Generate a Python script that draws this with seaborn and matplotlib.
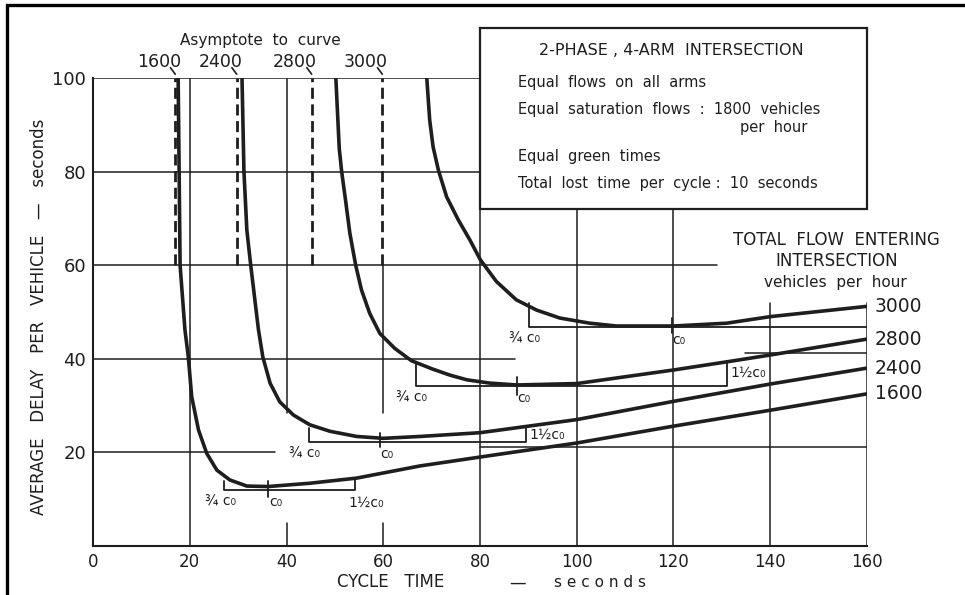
import pandas as pd
import matplotlib.pyplot as plt
import seaborn as sns
from matplotlib.patches import Rectangle

# Values
flows = ["1600", "2400", "2800", "3000"]

cycle_1600 = [17.6, 17.8, 18.0, 19.0, 19.7, 20.4, 21.8, 23.5, 25.6, 28.3, 31.8, 36.2, 44.8, 54.5, 67.6, 80.0, 100.0, 120.0, 140.0, 160.0]
delay_1600 = [100.0, 80.0, 60.0, 46.2, 40.4, 31.9, 24.8, 19.8, 16.2, 14.1, 12.8, 12.7, 13.4, 14.5, 17.1, 19.0, 22.0, 25.6, 29.0, 32.5]

cycle_2400 = [30.8, 31.2, 31.8, 32.6, 34.2, 35.1, 36.6, 38.6, 41.4, 44.8, 49.0, 54.5, 60.0, 67.6, 80.0, 100.0, 120.0, 140.0, 160.0]
delay_2400 = [100.0, 80.0, 67.5, 60.0, 46.2, 40.4, 34.8, 30.8, 28.0, 25.9, 24.5, 23.4, 23.0, 23.4, 24.2, 27.0, 30.9, 34.6, 38.0]

cycle_2800 = [50.2, 50.9, 51.4, 52.2, 53.1, 54.3, 55.5, 57.2, 59.3, 62.4, 65.8, 70.2, 73.8, 77.3, 82.0, 87.6, 100.0, 120.0, 132.0, 140.0, 160.0]
delay_2800 = [100.0, 85.0, 80.0, 73.9, 66.8, 60.0, 54.7, 49.7, 45.4, 42.2, 39.6, 37.8, 36.5, 35.5, 34.8, 34.4, 34.7, 37.6, 39.5, 40.8, 44.2]

cycle_3000 = [69.0, 69.6, 70.3, 71.4, 73.1, 75.5, 77.9, 80.1, 83.4, 87.5, 91.7, 96.5, 102.7, 108.2, 120.0, 131.0, 140.0, 160.0]
delay_3000 = [100.0, 91.0, 85.3, 80.3, 74.6, 69.7, 65.4, 61.1, 56.5, 52.6, 50.4, 48.7, 47.6, 47.0, 47.0, 47.6, 49.0, 51.2]

# optimum cycle brackets (3/4 c0, c0, 1.5 c0)
c0 = [36.2, 59.3, 87.6, 119.7]
c0_34 = [27.1, 44.6, 66.7, 90.1]
c0_15 = [54.1, 89.5, 131.0, 160.0]
bracket_level = [12.0, 22.3, 34.2, 46.7]
bracket_left_top = [13.9, 25.3, 39.2, 52.0]
bracket_right_top = [14.3, 25.6, 39.3, 46.7]
c0_tick_lo = [10.5, 21.2, 32.3, 45.5]
c0_tick_hi = [13.9, 24.1, 36.1, 48.7]

asymptote_x = [17.0, 29.7, 45.2, 59.8]

x_ticks = [0, 20, 40, 60, 80, 100, 120, 140, 160]
y_ticks = [20, 40, 60, 80, 100]

# grid pieces as drawn on the original
vgrid_x = [20, 40, 40, 60, 60, 80, 100, 120, 140, 160]
vgrid_y0 = [0, 0, 28.5, 0, 28.4, 0, 0, 0, 0, 0]
vgrid_y1 = [100, 5, 100, 5, 60, 72, 72, 72, 52, 52]
hgrid_y = [100, 80, 60, 40, 41.2, 20, 21.2]
hgrid_x0 = [0, 0, 0, 0, 134.7, 0, 80]
hgrid_x1 = [80, 80, 129, 87.2, 160, 37.6, 160]

box_lines = ["Equal  flows  on  all  arms",
             "Equal  saturation  flows  :  1800  vehicles",
             "Equal  green  times",
             "Total  lost  time  per  cycle :  10  seconds"]

sns.set_theme(style="white")
plt.rcParams["font.family"] = ["DejaVu Sans"]
ink = "#1e1e1e"

df = pd.concat([
    pd.DataFrame({"cycle": cycle_1600, "delay": delay_1600, "flow": "1600"}),
    pd.DataFrame({"cycle": cycle_2400, "delay": delay_2400, "flow": "2400"}),
    pd.DataFrame({"cycle": cycle_2800, "delay": delay_2800, "flow": "2800"}),
    pd.DataFrame({"cycle": cycle_3000, "delay": delay_3000, "flow": "3000"}),
])

fig = plt.figure(figsize=(9.65, 5.95), dpi=100)
ax = fig.add_axes([0.0964, 0.0824, 0.802, 0.7866])

# grid
for x, y0, y1 in zip(vgrid_x, vgrid_y0, vgrid_y1):
    ax.plot([x, x], [y0, y1], color=ink, lw=1.1, zorder=1)
for y, x0, x1 in zip(hgrid_y, hgrid_x0, hgrid_x1):
    ax.plot([x0, x1], [y, y], color=ink, lw=1.1, zorder=1)

# asymptotes
for x in asymptote_x:
    ax.plot([x, x], [60, 100], color=ink, lw=2.0, ls=(0, (4, 2)), zorder=2)

sns.lineplot(data=df, x="cycle", y="delay", hue="flow", palette=[ink] * 4,
             estimator=None, sort=False, legend=False, lw=2.6, ax=ax, zorder=3)
for ln in ax.lines[-4:]:
    ln.set_solid_joinstyle("round")
    ln.set_solid_capstyle("butt")

# brackets
for i in range(len(flows)):
    ax.plot([c0_34[i], c0_34[i], c0_15[i], c0_15[i]],
            [bracket_left_top[i], bracket_level[i], bracket_level[i], bracket_right_top[i]],
            color=ink, lw=1.3, zorder=2)
    ax.plot([c0[i], c0[i]], [c0_tick_lo[i], c0_tick_hi[i]], color=ink, lw=1.3, zorder=2)
    ax.text(c0_34[i] - 0.8, bracket_level[i] - 2.5, "¾ c₀", fontsize=10,
            ha="center", va="center", color=ink)
    ax.text(c0[i] + 1.5, bracket_level[i] - 2.6, "c₀", fontsize=10,
            ha="center", va="center", color=ink)

ax.text(c0_15[0] + 2.4, bracket_level[0] - 2.7, "1½c₀", fontsize=10, ha="center", va="center", color=ink)
ax.text(c0_15[1] + 0.8, bracket_level[1] + 1.5, "1½c₀", fontsize=10, ha="left", va="center", color=ink)
ax.text(c0_15[2] + 0.8, bracket_level[2] + 2.7, "1½c₀", fontsize=10, ha="left", va="center", color=ink)

# flow labels at right
ends = [delay_1600[-1], delay_2400[-1], delay_2800[-1], delay_3000[-1]]
for f, y in zip(flows, ends):
    ax.text(161.6, y, f, fontsize=13.5, ha="left", va="center", color=ink, clip_on=False)
ax.text(153.7, 65.4, "TOTAL  FLOW  ENTERING", fontsize=12, ha="center", va="center", color=ink)
ax.text(153.7, 60.8, "INTERSECTION", fontsize=12, ha="center", va="center", color=ink)
ax.text(153.5, 56.3, "vehicles  per  hour", fontsize=11, ha="center", va="center", color=ink)

# asymptote labels
ax.text(34.5, 108.1, "Asymptote  to  curve", fontsize=11, ha="center", va="center", color=ink, clip_on=False)
for f, x in zip(flows, asymptote_x):
    ax.text(x - 3.4, 103.4, f, fontsize=12.5, ha="center", va="center", color=ink, clip_on=False)
    ax.plot([x - 1.0, x], [102.2, 100.8], color=ink, lw=1.2, clip_on=False)

# info box
ax.add_patch(Rectangle((80, 72), 80, 38.7, fill=False, ec=ink, lw=1.6, clip_on=False, zorder=4))
ax.text(119.6, 105.8, "2-PHASE , 4-ARM  INTERSECTION", fontsize=11.5, ha="center", va="center", color=ink, clip_on=False)
for txt, y in zip(box_lines, [99.1, 93.2, 83.3, 77.4]):
    ax.text(87.8, y, txt, fontsize=10.5, ha="left", va="center", color=ink, clip_on=False)
ax.text(133.7, 89.5, "per  hour", fontsize=10.5, ha="left", va="center", color=ink)

# axes
ax.set_xlim(0, 160)
ax.set_ylim(0, 100)
ax.set_xticks(x_ticks)
ax.set_xticklabels([str(t) for t in x_ticks], fontsize=12, color=ink)
ax.set_yticks(y_ticks)
ax.set_yticklabels([str(t) for t in y_ticks], fontsize=13, color=ink)
ax.tick_params(axis="both", length=0)
ax.tick_params(axis="x", pad=5)
ax.tick_params(axis="y", pad=5)
for s in ["top", "right"]:
    ax.spines[s].set_visible(False)
for s in ["left", "bottom"]:
    ax.spines[s].set_color(ink)
    ax.spines[s].set_linewidth(1.5)
ax.set_xlabel("")
ax.text(0.384, -0.078, "CYCLE   TIME", transform=ax.transAxes, fontsize=12,
        ha="center", va="center", color=ink)
ax.text(0.549, -0.078, "—", transform=ax.transAxes, fontsize=12,
        ha="center", va="center", color=ink)
ax.text(0.655, -0.078, "s e c o n d s", transform=ax.transAxes, fontsize=11,
        ha="center", va="center", color=ink)
ax.set_ylabel("AVERAGE   DELAY   PER   VEHICLE   —   seconds", fontsize=12, color=ink)
ax.yaxis.set_label_coords(-0.058, 0.49)

# outer frame of the scan
fig.add_artist(Rectangle((7 / 965, -0.1), 1.2, 1.1 - 5 / 595, transform=fig.transFigure,
                         fill=False, ec="black", lw=2.4))

fig.savefig("out.png", dpi=100)
